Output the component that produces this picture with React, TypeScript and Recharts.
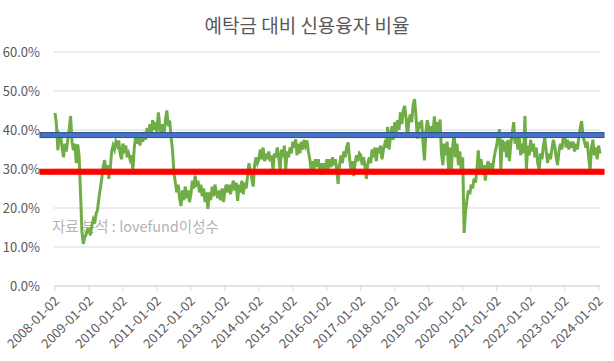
import React from 'react';
import { LineChart, Line, XAxis, YAxis, CartesianGrid, ReferenceLine } from 'recharts';

// 예탁금 대비 신용융자 비율 (%), 반월 간격으로 읽은 값
const r2008 = [44.4, 41.5, 34.8, 39.0, 38.5, 35.5, 33.0, 36.5, 34.5, 37.5, 40.0, 43.6, 37.0, 34.8, 36.5, 31.5, 36.3, 33.5, 24.0, 14.0, 10.8, 12.5, 13.2, 14.5];
const r2009 = [14.5, 13.0, 15.5, 17.0, 16.0, 18.5, 19.5, 22.5, 25.0, 27.5, 30.5, 32.3, 29.5, 31.0, 27.5, 30.0, 34.5, 36.0, 35.0, 37.0, 36.0, 37.3, 34.0, 32.5];
const r2010 = [36.5, 35.0, 36.0, 33.0, 34.0, 32.5, 33.5, 29.8, 35.5, 38.5, 36.5, 39.0, 36.0, 38.5, 37.0, 39.5, 37.5, 40.5, 38.0, 41.5, 39.0, 42.5, 40.0, 42.0];
const r2011 = [39.5, 44.5, 41.0, 38.5, 41.5, 39.0, 42.5, 45.0, 41.0, 42.5, 38.0, 35.0, 29.0, 26.5, 24.0, 26.0, 22.5, 20.5, 24.5, 22.0, 25.5, 22.5, 24.5, 21.5];
const r2012 = [23.5, 27.0, 25.0, 28.3, 25.5, 27.0, 24.0, 26.0, 23.0, 25.0, 21.5, 24.0, 19.8, 24.0, 22.0, 25.5, 23.0, 26.0, 24.0, 22.5, 24.5, 22.0, 25.0, 21.5];
const r2013 = [24.5, 26.0, 24.0, 26.0, 23.5, 25.5, 27.0, 24.5, 26.5, 21.8, 26.0, 24.0, 27.0, 23.5, 26.5, 25.0, 28.0, 31.5, 29.5, 27.5, 25.5, 31.0, 33.0, 31.5];
const r2014 = [32.5, 35.0, 32.5, 35.5, 32.0, 34.0, 32.5, 34.5, 32.0, 33.5, 29.8, 34.0, 33.0, 35.5, 33.0, 29.8, 35.0, 33.0, 36.0, 30.0, 34.5, 33.0, 35.5, 34.0];
const r2015 = [37.0, 35.5, 37.6, 33.5, 36.5, 34.0, 37.0, 35.0, 37.5, 36.0, 37.3, 34.5, 32.5, 29.5, 32.0, 30.0, 32.5, 30.5, 32.5, 29.5, 31.5, 28.5, 31.5, 29.5];
const r2016 = [32.5, 30.0, 32.5, 30.5, 33.0, 31.0, 32.5, 30.0, 26.2, 31.0, 33.5, 31.5, 34.5, 33.0, 35.5, 36.8, 33.0, 30.0, 32.0, 28.2, 31.5, 33.5, 32.0, 34.0];
const r2017 = [33.5, 31.0, 33.0, 30.5, 27.5, 31.5, 33.0, 31.5, 35.0, 33.0, 35.5, 32.0, 35.5, 34.0, 36.0, 32.5, 35.0, 36.5, 35.5, 40.8, 35.0, 38.5, 41.0, 37.5];
const r2018 = [42.0, 39.5, 42.5, 40.0, 44.5, 41.5, 45.0, 46.2, 43.0, 38.0, 42.5, 44.0, 42.0, 46.5, 47.9, 43.5, 37.8, 42.0, 40.5, 42.5, 36.5, 32.2, 39.5, 42.5];
const r2019 = [40.5, 38.0, 41.0, 39.0, 43.5, 39.5, 42.0, 38.5, 42.7, 34.0, 31.0, 36.5, 33.5, 37.0, 30.0, 35.5, 29.8, 36.0, 39.3, 33.0, 36.5, 31.0, 34.5, 29.5];
const r2020 = [33.0, 13.6, 19.0, 22.0, 24.5, 23.5, 26.0, 25.0, 27.5, 26.5, 29.5, 34.8, 30.0, 32.5, 28.5, 31.0, 27.0, 30.5, 32.0, 29.0, 31.5, 29.5, 32.5, 34.5];
const r2021 = [36.0, 38.5, 40.2, 30.0, 37.5, 34.5, 37.0, 33.0, 37.5, 32.0, 36.5, 39.0, 42.0, 36.5, 38.5, 35.0, 38.0, 33.5, 36.5, 34.0, 43.6, 30.0, 36.0, 33.5];
const r2022 = [37.5, 34.5, 36.5, 33.0, 35.5, 31.5, 29.8, 34.0, 32.5, 36.0, 38.0, 34.5, 31.5, 34.0, 32.5, 35.0, 37.5, 36.0, 33.0, 31.0, 34.5, 36.5, 35.0, 38.0];
const r2023 = [39.0, 35.5, 37.5, 35.0, 37.0, 35.5, 37.0, 34.5, 36.5, 35.0, 38.0, 40.5, 42.3, 38.5, 37.0, 35.5, 37.0, 33.0, 29.5, 35.5, 37.5, 33.5, 35.5, 32.5];
const r2024 = [36.0, 34.0];

const years = [2008, 2009, 2010, 2011, 2012, 2013, 2014, 2015, 2016, 2017, 2018, 2019, 2020, 2021, 2022, 2023, 2024];
const series = [r2008, r2009, r2010, r2011, r2012, r2013, r2014, r2015, r2016, r2017, r2018, r2019, r2020, r2021, r2022, r2023, r2024];

const yTicks = [0, 10, 20, 30, 40, 50, 60];
const upperLevel = 38.7;
const lowerLevel = 29.3;

const data = years.flatMap((y, k) => series[k].map((v, i) => ({ t: y + i / 24, v })));

const font = '"Noto Sans CJK KR", "Noto Sans", sans-serif';

const DateTick = (props: any) => {
  const { x, y, payload } = props;
  return (
    <text
      x={x + 5}
      y={y + 9}
      transform={`rotate(-45, ${x + 5}, ${y + 9})`}
      textAnchor="end"
      fill="#595959"
      fontSize={13}
      fontFamily={font}
    >
      {`${payload.value}-01-02`}
    </text>
  );
};

const band = (fill: string, stroke: string) => (p: any) => (
  <rect
    x={p.x1 - 14}
    y={p.y1 - 2.5}
    width={p.x2 - p.x1 + 18}
    height={5}
    fill={fill}
    stroke={stroke}
    strokeWidth={1}
  />
);

export default function App() {
  return (
    <div style={{ position: 'absolute', left: 0, top: 0, width: 614, height: 361, background: '#fff', fontFamily: font }}>
      <div style={{ position: 'absolute', top: 12, left: 0, width: 614, textAlign: 'center', fontSize: 19, lineHeight: '26px', color: '#595959' }}>
        예탁금 대비 신용융자 비율
      </div>
      <div style={{ position: 'absolute', top: 216, left: 52, fontSize: 14.5, lineHeight: '20px', color: '#b3b3b3', whiteSpace: 'nowrap' }}>
        자료 분석 : lovefund이성수
      </div>
      <LineChart width={614} height={361} data={data} margin={{ top: 52, right: 14, left: 0, bottom: 0 }}>
        <CartesianGrid vertical={false} stroke="#d9d9d9" />
        <XAxis
          dataKey="t"
          type="number"
          domain={[2007.97, 2024.04]}
          ticks={years}
          interval={0}
          height={75}
          tick={<DateTick />}
          tickSize={5}
          stroke="#d9d9d9"
          axisLine={{ stroke: '#d9d9d9' }}
          tickLine={{ stroke: '#d9d9d9' }}
        />
        <YAxis
          domain={[0, 60]}
          ticks={yTicks}
          width={54}
          axisLine={false}
          tickLine={false}
          tickMargin={8}
          tickFormatter={(v) => `${v.toFixed(1)}%`}
          tick={{ fill: '#595959', fontSize: 13, fontFamily: font }}
        />
        <Line type="linear" dataKey="v" stroke="#70AD47" strokeWidth={3} dot={false} isAnimationActive={false} />
        <ReferenceLine y={upperLevel} shape={band('#4472C4', '#2F528F')} />
        <ReferenceLine y={lowerLevel} shape={band('#FF0000', '#FF0000')} />
      </LineChart>
    </div>
  );
}
